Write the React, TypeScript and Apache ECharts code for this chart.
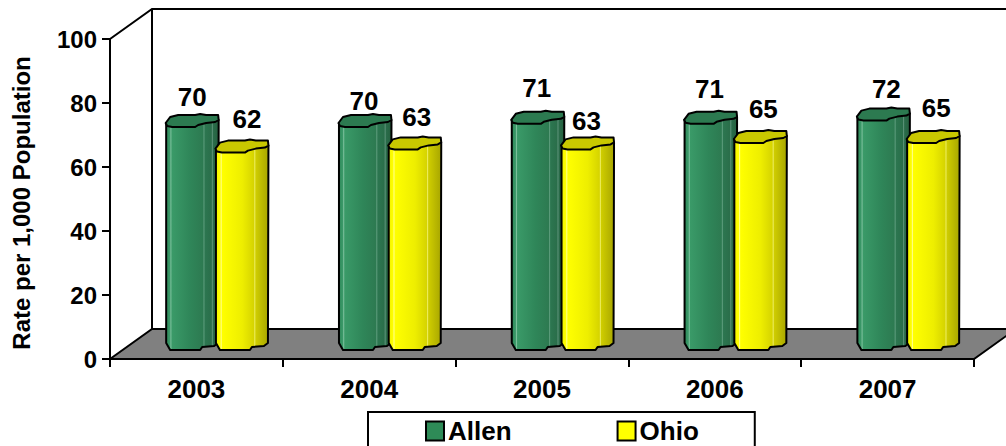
import React, { useEffect, useRef } from "react";
import * as echarts from "echarts";

const categories = ["2003", "2004", "2005", "2006", "2007"];
const allenValues = [70, 70, 71, 71, 72];
const ohioValues = [62, 63, 63, 65, 65];
const yTicks = { min: 0, max: 100, step: 20 };

// label nudges relative to the default place above a cylinder
const allenLabelDy = [-23, -19, -29, -28, -25];
const allenLabelDx = [0, -1, -1, -1, 3];
const ohioLabelDy = [-27, -25, -21, -27, -28];
const ohioLabelDx = [5, 2, -1, 3, 3];

const FONT = "'Liberation Sans', Arial, sans-serif";
const DEPTH_X = 42;
const DEPTH_Y = 30;

const capShape = [[-26.5, 3], [-22, -3], [-14, -5], [3, -5], [8, -6], [14, -5], [26, -5], [26.5, 0], [23, 2], [14, 3], [6, 5], [3, 7], [-20, 7], [-25, 6]];
const footShape = [[26, -1], [22, 2], [10, 3], [8, 6], [-22, 6], [-26, -1]];

function bodyGradient(stops: [number, string][]) {
  return new echarts.graphic.LinearGradient(0, 0, 1, 0, stops.map(([offset, color]) => ({ offset, color })));
}

const allenBody: [number, string][] = [
  [0, "#2f8a5a"], [0.07, "#3a9868"], [0.09, "#7cc09c"], [0.11, "#3a9a68"], [0.45, "#2f8659"],
  [0.7, "#2d7a51"], [0.72, "#5c9c7c"], [0.74, "#2c7650"], [0.86, "#2a6e4a"], [0.88, "#5b9278"], [0.9, "#2a6c4a"], [1, "#25603f"],
];
const ohioBody: [number, string][] = [
  [0, "#f2f200"], [0.08, "#ffff00"], [0.1, "#ffff90"], [0.12, "#ffff00"], [0.5, "#eeee00"],
  [0.72, "#d6d400"], [0.74, "#eded60"], [0.76, "#cfcd00"], [0.9, "#b8b600"], [1, "#a8a600"],
];

function barRenderer(offsetShare: number, body: [number, string][], capColor: string, dys: number[], dxs: number[]) {
  return (params: any, api: any) => {
    const i = api.value(0);
    const v = api.value(1);
    const band = api.size([1, 0])[0];
    const base = api.coord([i, 0]);
    const top = api.coord([i, v]);
    const cx = base[0] + DEPTH_X / 2 + band * offsetShare;
    const by = base[1] - DEPTH_Y / 2;
    const ty = top[1] - DEPTH_Y / 2;
    const bodyPts = [[cx - 26, ty + 3], [cx + 26.5, ty]].concat(footShape.map(([x, y]) => [cx + x, by + y]));
    const capPts = capShape.map(([x, y]) => [cx + x, ty + y]);
    return {
      type: "group",
      children: [
        {
          type: "polygon",
          shape: { points: bodyPts },
          style: { fill: bodyGradient(body), stroke: "#000", lineWidth: 2, lineJoin: "round" },
        },
        {
          type: "polygon",
          shape: { points: capPts },
          style: { fill: capColor, stroke: "#000", lineWidth: 2, lineJoin: "round" },
        },
        {
          type: "text",
          style: {
            x: cx + dxs[i],
            y: ty + dys[i],
            text: String(v),
            font: `bold 26px ${FONT}`,
            fill: "#000",
            align: "center",
            verticalAlign: "middle",
          },
        },
      ],
    };
  };
}

function stageRenderer(params: any) {
  const c = params.coordSys;
  const left = c.x;
  const bottom = c.y + c.height;
  const right = c.x + c.width;
  const wallTop = c.y - DEPTH_Y;
  const far = right + DEPTH_X;
  const line = (pts: number[][]) => ({
    type: "polyline",
    shape: { points: pts },
    style: { fill: "none", stroke: "#000", lineWidth: 2 },
  });
  return {
    type: "group",
    children: [
      {
        type: "polygon",
        shape: {
          points: [[left, bottom], [left + DEPTH_X, bottom - DEPTH_Y], [far, bottom - DEPTH_Y], [right, bottom]],
        },
        style: { fill: "#808080", stroke: "#000", lineWidth: 2 },
      },
      line([[left, c.y], [left + DEPTH_X, wallTop], [far, wallTop]]),
      line([[left + DEPTH_X, wallTop], [left + DEPTH_X, bottom - DEPTH_Y]]),
    ],
  };
}

export default function App() {
  const ref = useRef<HTMLDivElement>(null);
  useEffect(() => {
    document.body.style.margin = "0";
    const chart = echarts.init(ref.current!, undefined, { renderer: "svg" });
    const axisLine = { show: true, lineStyle: { color: "#000", width: 2 } };
    const axisTick = { show: true, length: 8, lineStyle: { color: "#000", width: 2 } };
    chart.setOption({
      animation: false,
      backgroundColor: "#fff",
      grid: { left: 110, top: 39, width: 864, height: 320, containLabel: false },
      xAxis: {
        type: "category",
        data: categories,
        axisLine,
        axisTick: { ...axisTick, alignWithLabel: false },
        axisLabel: { color: "#000", fontFamily: FONT, fontWeight: "bold", fontSize: 26, margin: 17, interval: 0 },
        splitLine: { show: false },
      },
      yAxis: {
        type: "value",
        min: yTicks.min,
        max: yTicks.max,
        interval: yTicks.step,
        axisLine,
        axisTick,
        axisLabel: { color: "#000", fontFamily: FONT, fontWeight: "bold", fontSize: 24, margin: 13 },
        splitLine: { show: false },
        name: "Rate per 1,000 Population",
        nameLocation: "middle",
        nameGap: 77,
        nameRotate: 90,
        nameTextStyle: { color: "#000", fontFamily: FONT, fontWeight: "bold", fontSize: 24, padding: [0, 8, 0, 0] },
      },
      legend: {
        left: 368,
        top: 412,
        padding: [6, 56, 23, 57],
        itemWidth: 18,
        itemHeight: 19,
        itemGap: 105,
        borderColor: "#000",
        borderWidth: 2,
        icon: "rect",
        selectedMode: false,
        itemStyle: { borderColor: "#000", borderWidth: 2 },
        textStyle: { color: "#000", fontFamily: FONT, fontWeight: "bold", fontSize: 26, padding: [0, 0, 0, -1] },
        data: ["Allen", "Ohio"],
      },
      series: [
        {
          type: "custom",
          name: "stage",
          silent: true,
          renderItem: stageRenderer,
          data: [[0, 0]],
          encode: { x: 0, y: 1 },
          z: 1,
        },
        {
          type: "custom",
          name: "Allen",
          itemStyle: { color: "#2e8b57" },
          renderItem: barRenderer(-0.146, allenBody, "#2c7a50", allenLabelDy, allenLabelDx),
          data: allenValues.map((v, i) => [i, v]),
          encode: { x: 0, y: 1 },
          z: 2,
        },
        {
          type: "custom",
          name: "Ohio",
          itemStyle: { color: "#ffff00" },
          renderItem: barRenderer(0.142, ohioBody, "#c9c800", ohioLabelDy, ohioLabelDx),
          data: ohioValues.map((v, i) => [i, v]),
          encode: { x: 0, y: 1 },
          z: 3,
        },
      ],
    });
    return () => chart.dispose();
  }, []);
  return <div ref={ref} style={{ position: "absolute", left: 0, top: 0, width: 1006, height: 446 }} />;
}
